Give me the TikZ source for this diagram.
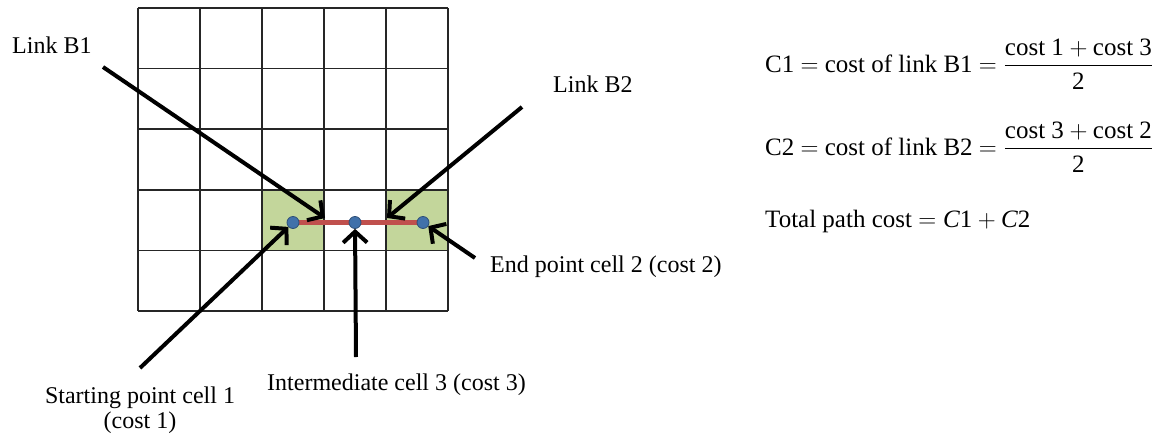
\documentclass[tikz,border=0pt]{standalone}
\usepackage{amsmath}
\usepackage{fontspec}
\newfontfamily\lblfont{Liberation Serif}
\usetikzlibrary{arrows.meta, positioning}
\definecolor{cellgreen}{RGB}{195,214,155}
\definecolor{linkred}{RGB}{192,80,77}
\definecolor{dotblue}{RGB}{65,113,170}

\begin{document}
\begin{tikzpicture}[
  x=1pt, y=-1pt,
  gridline/.style={line width=1.5pt, black!85},
  goalcell/.style={fill=cellgreen},
  link/.style={line width=5pt, linkred},
  dot/.style={circle, fill=dotblue, draw=dotblue!70!black, line width=0.8pt,
    inner sep=0pt, minimum size=12pt},
  lbl/.style={font=\lblfont\fontsize{24}{25}\selectfont, inner sep=0pt},
  eqn/.style={font=\lblfont\fontsize{25}{30}\selectfont, inner sep=0pt, anchor=base west},
  arr/.style={-{Straight Barb[length=11pt, width=24pt]}, line width=4pt, black}
]
\useasboundingbox (0,0) rectangle (1171,434);
% === Green start / end cells ===
\fill[goalcell] (262,190) rectangle (324,250.6);
\fill[goalcell] (386,190) rectangle (448,250.6);
% === 5 x 5 grid ===
\foreach \i in {0,...,5} {
  \draw[gridline] (138+62*\i,8) -- (138+62*\i,311);
  \draw[gridline] (138,8+60.6*\i) -- (448,8+60.6*\i);
}
% === Path points and links ===
\coordinate (p1) at (293,222.5);
\coordinate (p3) at (355,222.5);
\coordinate (p2) at (423,222.5);
\draw[link] (p1) -- (p2);
\node[dot] (dot1) at (p1) {};
\node[dot] (dot3) at (p3) {};
\node[dot] (dot2) at (p2) {};
% === Labels ===
\node[lbl, anchor=base west] (linkB1) at (12,53) {Link B1};
\node[lbl, anchor=base west] (linkB2) at (553,92) {Link B2};
\node[lbl, anchor=base west] (endlbl) at (490,272) {End point cell 2 (cost 2)};
\node[lbl, anchor=base west] (midlbl) at (267,390) {Intermediate cell 3 (cost 3)};
\node[lbl, anchor=base, align=center] (startlbl) at (140,428) {Starting point cell 1\\(cost 1)};
% === Arrow tails and tips ===
\coordinate (b1tail) at (103,67);
\coordinate (b1tip) at (325,218);
\coordinate (b2tail) at (522,107);
\coordinate (b2tip) at (387,218);
\coordinate (s1tail) at (140,368);
\coordinate (m3tail) at (356,357);
\coordinate (e2tail) at (475,258);
\draw[arr] (b1tail) -- (b1tip);
\draw[arr] (b2tail) -- (b2tip);
\draw[arr] (s1tail) -- (dot1);
\draw[arr] (m3tail) -- (dot3);
\draw[arr] (e2tail) -- (dot2);
% === Cost formulas ===
\node[eqn] (eqC1) at (765,72)
  {C1 $=$ cost of link B1 $= \dfrac{\text{cost 1} + \text{cost 3}}{\text{2}}$};
\node[eqn] (eqC2) at (765,155)
  {C2 $=$ cost of link B2 $= \dfrac{\text{cost 3} + \text{cost 2}}{\text{2}}$};
\node[eqn] (eqTot) at (765,227) {Total path cost $= \textit{C}\text{1} + \textit{C}\text{2}$};
\end{tikzpicture}
\end{document}
